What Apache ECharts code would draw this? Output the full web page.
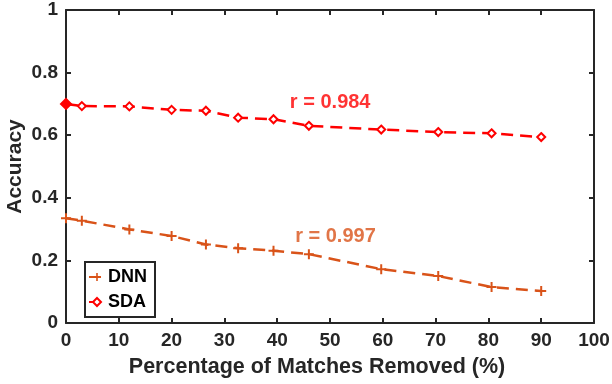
<!DOCTYPE html>
<html><head><meta charset="utf-8">
<script src="https://cdn.jsdelivr.net/npm/echarts@6/dist/echarts.min.js"></script>
<style>html,body{margin:0;padding:0;background:#fff}#c{width:612px;height:384px}</style>
</head><body><div id="c"></div>
<script>
const xValues = [0, 3, 12, 20, 26.5, 32.6, 39.3, 46, 59.7, 70.5, 80.6, 90];
const dnnValues = [0.335, 0.327, 0.299, 0.278, 0.251, 0.239, 0.231, 0.220, 0.172, 0.150, 0.115, 0.102];
const sdaValues = [0.700, 0.693, 0.692, 0.681, 0.678, 0.656, 0.651, 0.630, 0.618, 0.610, 0.606, 0.594];
const xTicks = [0, 10, 20, 30, 40, 50, 60, 70, 80, 90, 100];
const yTicks = [0, 0.2, 0.4, 0.6, 0.8, 1];
const seriesNames = ['DNN', 'SDA'];
const annotationTexts = ['r = 0.997', 'r = 0.984'];
const annotationX = [43.4, 42.4];
const annotationY = [0.275, 0.706];

const DNN_C = '#D95319', SDA_C = '#FF0000', AX = '#262626';
const font = 'Liberation Sans, Arial, sans-serif';
const chart = echarts.init(document.getElementById('c'));
const axisCommon = () => ({
  axisLine: {show: true, onZero: false, lineStyle: {color: AX, width: 2}},
  axisTick: {show: true, inside: true, length: 5, lineStyle: {color: AX, width: 2}},
  splitLine: {show: false}
});
const plus = 'path://M4,0h2v4h4v2h-4v4h-2v-4h-4v-2h4z';
chart.setOption({
  animation: false,
  grid: {left: 66, right: 18, top: 10, bottom: 61, containLabel: false, outerBoundsMode: 'none'},
  legend: {
    orient: 'vertical', left: 85, top: 262, itemGap: 7, itemWidth: 16, itemHeight: 10,
    borderColor: AX, borderWidth: 2, padding: [6, 8, 6, 3], backgroundColor: '#fff',
    textStyle: {fontFamily: font, fontWeight: 'bold', fontSize: 18, color: '#000', padding: [0, 0, 0, -2]},
    data: seriesNames
  },
  xAxis: [
    Object.assign({type: 'value', min: 0, max: 100, interval: 10, position: 'bottom',
      name: 'Percentage of Matches Removed (%)', nameLocation: 'middle', nameGap: 33,
      nameTextStyle: {fontFamily: font, fontWeight: 'bold', fontSize: 21.5, color: AX, padding: [0, 26, 0, 0]},
      axisLabel: {fontFamily: font, fontWeight: 'bold', fontSize: 19, color: AX, margin: 8,
        formatter: v => xTicks.includes(Math.round(v)) ? String(Math.round(v)) : ''}}, axisCommon()),
    Object.assign({type: 'value', min: 0, max: 100, interval: 10, position: 'top',
      axisLabel: {show: false}}, axisCommon())
  ],
  yAxis: [
    Object.assign({type: 'value', min: 0, max: 1, interval: 0.2, position: 'left',
      name: 'Accuracy', nameLocation: 'middle', nameGap: 40, nameRotate: 90, nameMoveOverlap: false,
      nameTextStyle: {fontFamily: font, fontWeight: 'bold', fontSize: 21, color: AX},
      axisLabel: {fontFamily: font, fontWeight: 'bold', fontSize: 19, color: AX, margin: 8,
        formatter: v => yTicks.includes(+v.toFixed(1)) ? String(+v.toFixed(1)) : ''}}, axisCommon()),
    Object.assign({type: 'value', min: 0, max: 1, interval: 0.2, position: 'right',
      axisLabel: {show: false}}, axisCommon())
  ],
  series: [
    {
      name: seriesNames[0], type: 'line', symbol: plus, symbolSize: 10,
      data: xValues.map((x, i) => [x, dnnValues[i]]),
      lineStyle: {color: DNN_C, width: 2.5, type: [12, 7]},
      itemStyle: {color: DNN_C}
    },
    {
      name: seriesNames[1], type: 'line', symbol: 'diamond', symbolSize: 8,
      data: xValues.map((x, i) => i === 0
        ? {value: [x, sdaValues[i]], itemStyle: {color: SDA_C}, symbolSize: 10}
        : [x, sdaValues[i]]),
      lineStyle: {color: SDA_C, width: 2.5, type: [12, 7]},
      itemStyle: {color: '#fff', borderColor: SDA_C, borderWidth: 2}
    },
    {
      type: 'scatter', symbolSize: 0, silent: true,
      data: annotationTexts.map((t, i) => ({value: [annotationX[i], annotationY[i]],
        label: {color: i === 0 ? DNN_C : SDA_C}})),
      label: {show: true, position: 'inside', align: 'left',
        formatter: p => annotationTexts[p.dataIndex],
        fontFamily: font, fontWeight: 'bold', fontSize: 20}
    }
  ]
});
</script></body></html>
